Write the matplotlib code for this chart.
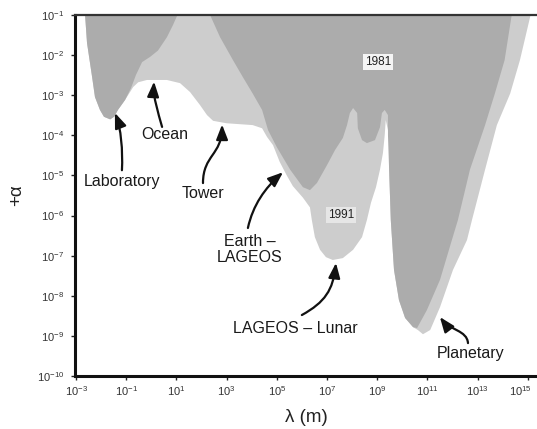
import numpy as np
import matplotlib
matplotlib.use("Agg")
import matplotlib.pyplot as plt
import matplotlib.transforms as mtransforms
from matplotlib.path import Path
from matplotlib.patches import FancyArrowPatch

plt.rcParams['font.family'] = ['Liberation Sans', 'DejaVu Sans']
plt.rcParams['mathtext.fontset'] = 'custom'
plt.rcParams['mathtext.rm'] = 'Liberation Sans'
plt.rcParams['mathtext.it'] = 'Liberation Sans:italic'
plt.rcParams['mathtext.default'] = 'regular'

# 1991 excluded region (boundary of the alpha-lambda exclusion zone)
light_lam = [2.3e-3, 2.75e-3, 4.4e-3, 5.7e-3, 9.0e-3, 1.3e-2, 2.3e-2, 3.3e-2, 4.7e-2, 9.0e-2,
             0.19, 0.30, 0.67, 4.2, 14, 35, 87, 166, 290, 1.0e3,
             1.1e4, 2.6e4, 4.1e4, 7.1e4, 1.3e5, 2.5e5, 4.4e5, 1.1e6, 2.1e6, 2.5e6,
             3.3e6, 5.3e6, 9.1e6, 1.7e7, 4.3e7, 1.1e8, 2.5e8, 3.9e8, 5.7e8, 9.0e8,
             1.3e9, 1.7e9, 2.0e9, 2.2e9, 3.0e9, 3.0e9, 3.5e9, 4.7e9, 7.4e9, 1.3e10,
             2.7e10, 4.2e10, 6.7e10, 1.3e11, 3.2e11, 1.05e12, 3.8e12, 6.0e12, 2.0e13, 5.9e13,
             2.0e14, 4.9e14, 1.3e15]
light_alpha = [0.1, 2.0e-2, 2.8e-3, 9.0e-4, 4.3e-4, 2.9e-4, 2.5e-4, 2.9e-4, 4.3e-4, 7.6e-4,
               1.6e-3, 2.1e-3, 2.4e-3, 2.4e-3, 2.0e-3, 1.2e-3, 5.7e-4, 3.2e-4, 2.3e-4, 2.0e-4,
               1.8e-4, 1.5e-4, 9.1e-5, 5.7e-5, 2.2e-5, 1.0e-5, 5.4e-6, 2.8e-6, 1.6e-6, 7.7e-7,
               2.9e-7, 1.4e-7, 9.2e-8, 7.8e-8, 8.7e-8, 1.4e-7, 2.9e-7, 7.7e-7, 2.1e-6, 5.1e-6,
               1.4e-5, 3.6e-5, 1.0e-4, 2.4e-4, 1.0e-4, 1.4e-5, 7.7e-7, 4.4e-8, 7.8e-9, 2.8e-9,
               1.65e-9, 1.4e-9, 1.1e-9, 1.4e-9, 5.2e-9, 4.4e-8, 2.45e-7, 7.7e-7, 1.4e-5, 1.8e-4,
               1.1e-3, 7.5e-3, 0.1]

# 1981 excluded region: laboratory lobe
dark_lab_lam = [2.3e-3, 2.75e-3, 4.4e-3, 5.7e-3, 9.0e-3, 1.3e-2, 2.3e-2, 3.3e-2, 4.7e-2,
                9.0e-2, 0.155, 0.245, 0.43, 0.89, 1.85, 4.2, 7.3, 11]
dark_lab_alpha = [0.1, 2.0e-2, 2.8e-3, 9.0e-4, 4.3e-4, 2.9e-4, 2.5e-4, 2.9e-4, 4.3e-4,
                  7.6e-4, 1.5e-3, 3.2e-3, 6.7e-3, 9.0e-3, 1.3e-2, 2.8e-2, 5.6e-2, 0.1]

# 1981 excluded region: geophysical / satellite / planetary lobe
dark_lam = [220, 550, 1.8e3, 4.5e3, 1.1e4, 2.6e4, 4.5e4, 1.0e5, 3.4e5, 1.1e6,
            2.1e6, 4.0e6, 1.0e7, 2.1e7, 4.3e7, 6.3e7, 8.2e7, 1.1e8, 1.6e8, 1.7e8,
            2.5e8, 3.9e8, 8.2e8, 1.3e9, 1.55e9, 2.0e9, 2.7e9, 2.7e9, 3.0e9, 3.5e9,
            4.7e9, 7.4e9, 1.3e10, 2.7e10, 3.9e10, 9.6e10, 3.2e11, 9.5e11, 1.65e12, 5.0e12,
            2.0e13, 4.9e13, 1.2e14, 2.3e14]
dark_alpha = [0.1, 2.8e-2, 7.5e-3, 2.8e-3, 1.1e-3, 4.3e-4, 1.35e-4, 5.1e-5, 1.4e-5, 5.1e-6,
              4.3e-6, 6.5e-6, 1.8e-5, 4.3e-5, 8.6e-5, 1.8e-4, 3.6e-4, 4.8e-4, 3.6e-4, 1.5e-4,
              7.6e-5, 6.4e-5, 7.6e-5, 1.6e-4, 3.6e-4, 4.3e-4, 3.2e-4, 1.0e-4, 1.4e-5, 7.7e-7,
              4.4e-8, 7.8e-9, 2.8e-9, 1.65e-9, 1.57e-9, 4.4e-9, 2.5e-8, 2.45e-7, 7.7e-7, 1.4e-5,
              1.8e-4, 1.1e-3, 7.5e-3, 0.1]

x_ticks = [1e-3, 1e-1, 1e1, 1e3, 1e5, 1e7, 1e9, 1e11, 1e13, 1e15]
y_ticks = [1e-10, 1e-9, 1e-8, 1e-7, 1e-6, 1e-5, 1e-4, 1e-3, 1e-2, 1e-1]

LIGHT = '#cdcdcd'
DARK = '#acacac'

fig = plt.figure(figsize=(5.37, 4.29), dpi=100)
ax = fig.add_axes([75 / 537, 53 / 429, 462 / 537, 361 / 429])
ax.set_xscale('log')
ax.set_yscale('log')
ax.set_xlim(10 ** -3.04, 10 ** 15.37)
ax.set_ylim(1e-10, 1e-1)

ax.fill(light_lam, light_alpha, color=LIGHT, lw=0, zorder=1)
ax.fill(dark_lab_lam, dark_lab_alpha, color=DARK, lw=0, zorder=2)
ax.fill(dark_lam, dark_alpha, color=DARK, lw=0, zorder=2)

# axes frame
for side in ('left', 'bottom'):
    ax.spines[side].set_linewidth(2.2)
    ax.spines[side].set_color('#111111')
ax.spines['top'].set_linewidth(1.6)
ax.spines['top'].set_color('#333333')
ax.spines['right'].set_visible(False)
for s in ax.spines.values():
    s.set_zorder(6)

ax.set_xticks(x_ticks)
ax.set_yticks(y_ticks)
ax.minorticks_off()
ax.tick_params(axis='both', which='major', labelsize=8, labelcolor='#333333',
               color='#222222', length=3, width=1, direction='out')
ax.tick_params(axis='x', pad=3)
ax.tick_params(axis='y', pad=5)

# keep the last x tick label inside the figure edge
last = ax.get_xticklabels()[-1]
last.set_transform(last.get_transform() +
                   mtransforms.ScaledTranslation(-5 / 72, 0, fig.dpi_scale_trans))

ax.set_xlabel('λ (m)', fontsize=13.5, labelpad=8, color='#222222')
ax.set_ylabel('+α', fontsize=13.5, labelpad=8, color='#222222')


def P(a, b):
    return (10 ** a, 10 ** b)


label_kw = dict(fontsize=11.5, color='#1a1a1a', ha='center', va='center', zorder=7)
ax.text(*P(-1.17, -5.14), 'Laboratory', **label_kw)
ax.text(*P(0.55, -3.99), 'Ocean', **label_kw)
ax.text(*P(2.06, -5.46), 'Tower', **label_kw)
ax.text(*P(3.93, -6.84), 'Earth –\nLAGEOS', linespacing=1.05, **label_kw)
ax.text(*P(5.73, -8.81), 'LAGEOS – Lunar', **label_kw)
ax.text(*P(12.74, -9.43), 'Planetary', **label_kw)

ax.text(*P(9.03, -2.17), '1981', fontsize=8.5, color='#222222', ha='center', va='center',
        zorder=7, bbox=dict(boxstyle='square,pad=0.15', fc='#f4f4f4', ec='none'))
ax.text(*P(7.56, -5.99), '1991', fontsize=8.5, color='#222222', ha='center', va='center',
        zorder=7, bbox=dict(boxstyle='square,pad=0.15', fc='#e6e6e6', ec='none'))

# curved pointer arrows (cubic Bezier control points, log10 lambda / log10 alpha)
arrows = [
    [(-1.17, -4.87), (-1.13, -4.37), (-1.21, -3.82), (-1.45, -3.44)],
    [(0.43, -3.79), (0.27, -3.42), (0.07, -3.07), (0.11, -2.66)],
    [(2.06, -5.19), (2.06, -4.49), (2.82, -4.49), (2.82, -3.73)],
    [(3.85, -6.31), (4.05, -5.74), (4.53, -5.31), (5.25, -4.92)],
    [(6.00, -8.48), (6.92, -8.16), (7.24, -7.86), (7.36, -7.18)],
    [(12.62, -9.18), (12.58, -8.86), (11.90, -8.86), (11.50, -8.53)],
]
codes = [Path.MOVETO, Path.CURVE4, Path.CURVE4, Path.CURVE4]
for pts in arrows:
    verts = [P(a, b) for a, b in pts]
    arr = FancyArrowPatch(path=Path(verts, codes), arrowstyle='-|>,head_length=0.9,head_width=0.35',
                          mutation_scale=10, lw=1.6, color='#111111', transform=ax.transData,
                          zorder=7)
    ax.add_patch(arr)

fig.savefig('out.png', dpi=100)
